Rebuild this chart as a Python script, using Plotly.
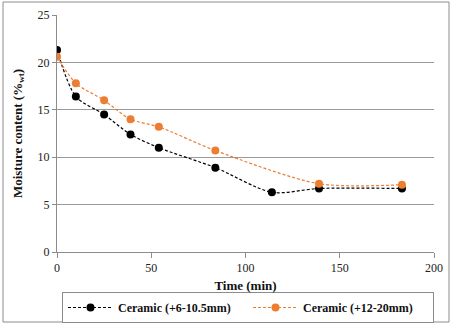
import plotly.graph_objects as go

time_black = [0, 10, 25, 39, 54, 84, 114, 139, 183]
moist_black = [21.3, 16.4, 14.5, 12.4, 11.0, 8.9, 6.3, 6.7, 6.7]
time_orange = [0, 10, 25, 39, 54, 84, 139, 183]
moist_orange = [20.6, 17.8, 16.0, 14.0, 13.2, 10.7, 7.2, 7.1]
names = ["<b>Ceramic (+6-10.5mm)</b>", "<b>Ceramic (+12-20mm)</b>"]

W, H = 450, 325
L, R, T, B = 57, 16, 15, 73
pw, ph = W - L - R, H - T - B

def px(x):
    return (x - L) / pw

def py(y):
    return (H - B - y) / ph

fig = go.Figure()
fig.add_trace(go.Scatter(x=time_black, y=moist_black, name=names[0], mode="lines+markers",
                         line=dict(color="#000000", width=1.2, dash="3px,2px", shape="spline", smoothing=0.8),
                         marker=dict(color="#000000", size=8)))
fig.add_trace(go.Scatter(x=time_orange, y=moist_orange, name=names[1], mode="lines+markers",
                         line=dict(color="#ED7D31", width=1.2, dash="3px,2px", shape="spline", smoothing=0.8),
                         marker=dict(color="#ED7D31", size=8)))

serif = "Liberation Serif"
fig.update_layout(
    width=W, height=H,
    margin=dict(l=L, r=R, t=T, b=B, autoexpand=False),
    paper_bgcolor="white", plot_bgcolor="white",
    font=dict(family=serif, size=12, color="#222"),
    xaxis=dict(range=[0, 200], dtick=50, showgrid=False, zeroline=False,
               showline=True, linecolor="#8c8c8c", linewidth=1,
               ticks="outside", ticklen=5, tickcolor="#8c8c8c",
               tickfont=dict(family=serif, size=12, color="#222"),
               title=dict(text="<b>Time (min)</b>", font=dict(family=serif, size=13, color="#111"), standoff=6)),
    yaxis=dict(range=[0, 25], dtick=5, showgrid=True, gridcolor="#9a9a9a", gridwidth=1, zeroline=False,
               showline=True, linecolor="#8c8c8c", linewidth=1,
               ticks="outside", ticklen=4, tickcolor="#8c8c8c",
               tickfont=dict(family=serif, size=12, color="#222"),
               title=dict(text="<b>Moisture content (%<sub>wt</sub>)</b>", font=dict(family=serif, size=13, color="#111"), standoff=12)),
    legend=dict(orientation="h", x=px(62), y=py(323), xanchor="left", yanchor="bottom",
                bordercolor="#8c8c8c", borderwidth=1, bgcolor="white",
                font=dict(family=serif, size=12, color="#111"), entrywidth=125, entrywidthmode="pixels",
                itemwidth=45),
    showlegend=True,
)
fig.add_shape(type="rect", xref="paper", yref="paper",
              x0=px(3), x1=px(449), y0=py(322), y1=py(2),
              line=dict(color="#8c8c8c", width=1), fillcolor="rgba(0,0,0,0)", layer="below")
fig.write_html("out.html")
